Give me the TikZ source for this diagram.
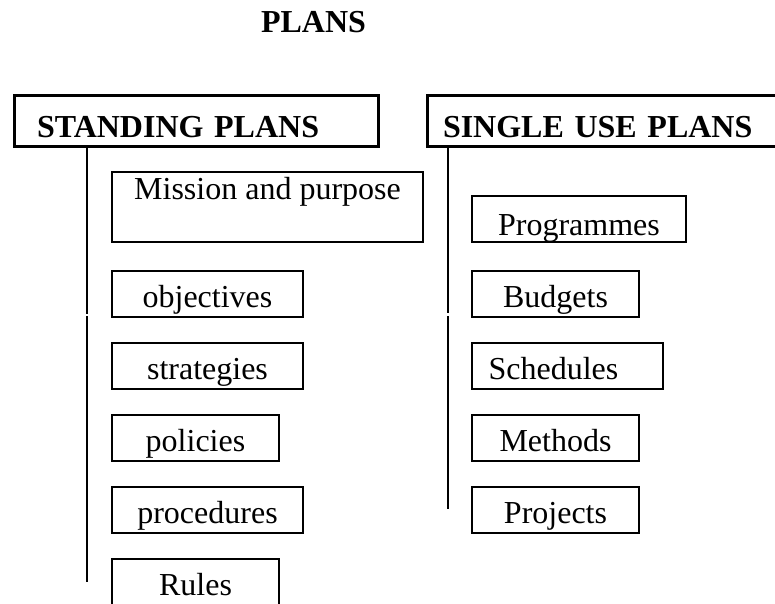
\documentclass[tikz,border=0pt]{standalone}
\usepackage{fontspec}
\setmainfont{Liberation Serif}
\usepackage{tikz}
\usetikzlibrary{positioning}
\newcommand{\plansize}{\fontsize{32}{38}\selectfont}
\tikzset{
heading/.style={draw,line width=3pt,outer sep=0pt,anchor=north west,font=\plansize\bfseries,align=left,inner ysep=0pt,minimum height=51pt,text height=33pt,text depth=0pt},
plan/.style={draw,line width=2pt,outer sep=0pt,inner xsep=0pt,inner ysep=0pt,minimum width=191pt,minimum height=46pt,text height=26pt,text depth=0pt},
short/.style={minimum width=167pt},
stem/.style={line width=2pt}
}

\begin{document}
\begin{tikzpicture}[x=1pt,y=-1pt,font=\plansize]
\useasboundingbox (0,0) rectangle (775,603);
\clip (0,0) rectangle (775,603);
\node[font=\plansize\bfseries,anchor=base] (plans) at (313.5,32.5) {PLANS};
\node[heading,inner xsep=23pt,text width=318pt] (standing) at (14,95) {STANDING PLANS};
\node[heading,inner xsep=16pt,text width=360pt] (single) at (427,95) {SINGLE USE PLANS};
% standing plans
\node[plan,minimum width=311pt,minimum height=70pt,text height=10pt,text depth=26pt] (mission) [below right=26pt and 98pt of standing.south west] {Mission and purpose};
\node[plan] (objectives) [below=29pt of mission.south west,anchor=north west] {objectives};
\node[plan] (strategies) [below=26pt of objectives.south west,anchor=north west] {strategies};
\node[plan,short] (policies) [below=26pt of strategies.south west,anchor=north west] {policies};
\node[plan] (procedures) [below=26pt of policies.south west,anchor=north west] {procedures};
\node[plan,short] (rules) [below=26pt of procedures.south west,anchor=north west] {Rules};
% single use plans
\node[plan,minimum width=214pt,text height=32pt] (programmes) [below right=50pt and 45pt of single.south west] {Programmes};
\node[plan,short] (budgets) [below=29pt of programmes.south west,anchor=north west] {Budgets};
\node[plan] (schedules) [below=26pt of budgets.south west,anchor=north west] {Schedules\hspace*{28pt}};
\node[plan,short] (methods) [below=26pt of schedules.south west,anchor=north west] {Methods};
\node[plan,short] (projects) [below=26pt of methods.south west,anchor=north west] {Projects};
\coordinate (stdbreak) at (87,314);
\coordinate (stdgo) at (87,316);
\coordinate (stdend) at (87,582);
\coordinate (sglbreak) at (448,313);
\coordinate (sglgo) at (448,316);
\coordinate (sglend) at (448,509);
\draw[stem] (standing.south -| stdbreak) -- (stdbreak);
\draw[stem] (stdgo) -- (stdend);
\draw[stem] (single.south -| sglbreak) -- (sglbreak);
\draw[stem] (sglgo) -- (sglend);
\end{tikzpicture}
\end{document}
